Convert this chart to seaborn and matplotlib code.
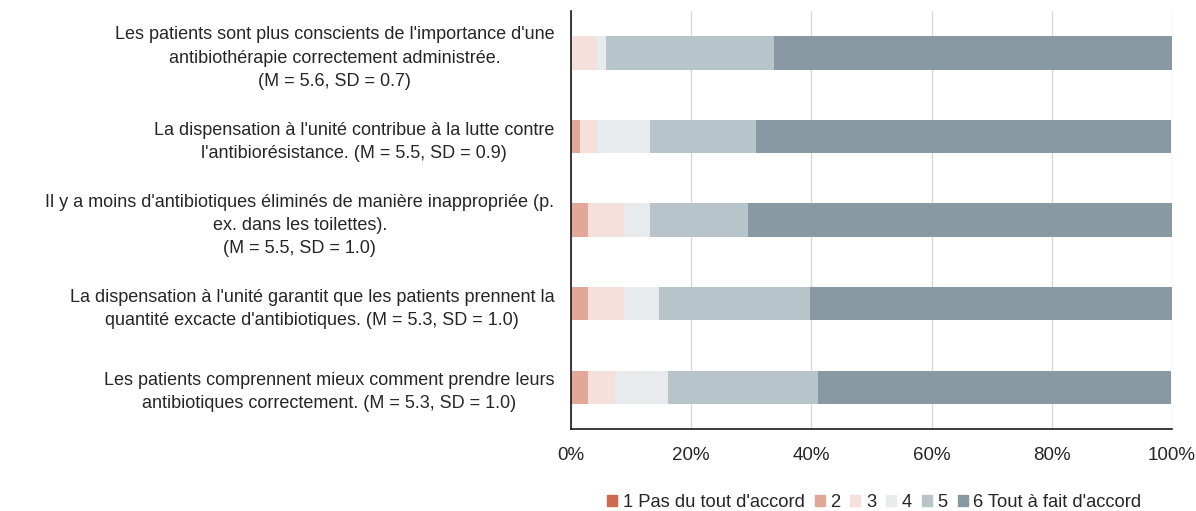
import matplotlib
matplotlib.use('Agg')
import matplotlib.pyplot as plt
import seaborn as sns
import pandas as pd
import numpy as np

statements = [
    "Les patients sont plus conscients de l'importance d'une\nantibiothérapie correctement administrée.\n(M = 5.6, SD = 0.7)",
    "La dispensation à l'unité contribue à la lutte contre\nl'antibiorésistance. (M = 5.5, SD = 0.9)",
    "Il y a moins d'antibiotiques éliminés de manière inappropriée (p.\nex. dans les toilettes).\n(M = 5.5, SD = 1.0)",
    "La dispensation à l'unité garantit que les patients prennent la\nquantité excacte d'antibiotiques. (M = 5.3, SD = 1.0)",
    "Les patients comprennent mieux comment prendre leurs\nantibiotiques correctement. (M = 5.3, SD = 1.0)",
]
levels = ["1 Pas du tout d'accord", "2", "3", "4", "5", "6 Tout à fait d'accord"]

# percent of answers per level
pct_1 = [0.0, 0.0, 0.0, 0.0, 0.0]
pct_2 = [0.0, 1.5, 2.9, 2.9, 2.9]
pct_3 = [4.4, 2.9, 5.9, 5.9, 4.4]
pct_4 = [1.5, 8.8, 4.4, 5.9, 8.8]
pct_5 = [27.9, 17.6, 16.2, 25.0, 25.0]
pct_6 = [66.2, 69.1, 70.6, 60.3, 58.8]

colors = ['#d06a4f', '#e3a797', '#f5e0db', '#e7ebed', '#b7c4ca', '#8899a3']


def main():
    series = [pct_1, pct_2, pct_3, pct_4, pct_5, pct_6]
    cum = np.cumsum(np.array(series), axis=0)

    plt.rcParams['font.family'] = ['Liberation Sans', 'DejaVu Sans']
    fig = plt.figure(figsize=(11.96, 5.11), dpi=100)
    ax = fig.add_axes([0.4774, 0.1605, 0.5026, 0.8175])

    # stacked bars: draw cumulative totals, largest first
    for i in range(len(levels) - 1, -1, -1):
        df = pd.DataFrame({'Statement': statements, 'Value': cum[i]})
        sns.barplot(data=df, x='Value', y='Statement', color=colors[i],
                    orient='h', width=0.4, saturation=1, ax=ax, zorder=2)

    ax.set_xlim(0, 100)
    ax.set_ylim(4.5, -0.5)
    ax.set_xticks([0, 20, 40, 60, 80, 100])
    ax.set_xticklabels(['0%', '20%', '40%', '60%', '80%', '100%'], fontsize=13.5, color='#262626')
    ax.tick_params(axis='x', length=0, pad=13)
    ax.tick_params(axis='y', length=0, pad=12)
    for lab in ax.get_yticklabels():
        lab.set_fontsize(13)
        lab.set_color('#262626')
        lab.set_multialignment('center')
        lab.set_linespacing(1.47)
    ax.set_xlabel('')
    ax.set_ylabel('')
    ax.grid(axis='x', color='#d9d9d9', linewidth=1, zorder=0)
    ax.set_axisbelow(True)
    for side in ['top', 'right']:
        ax.spines[side].set_visible(False)
    for side in ['left', 'bottom']:
        ax.spines[side].set_color('#1a1a1a')
        ax.spines[side].set_linewidth(1.2)

    handles = [plt.Rectangle((0, 0), 1, 1, color=c) for c in colors]
    fig.legend(handles, levels, loc='center', bbox_to_anchor=(0.731, 0.016),
               ncol=6, frameon=False, fontsize=13.2, handlelength=0.55, handleheight=0.55,
               handletextpad=0.3, columnspacing=0.55, labelcolor='#262626')

    plt.savefig('out.png', dpi=100)
    plt.close()


if __name__ == '__main__':
    main()
